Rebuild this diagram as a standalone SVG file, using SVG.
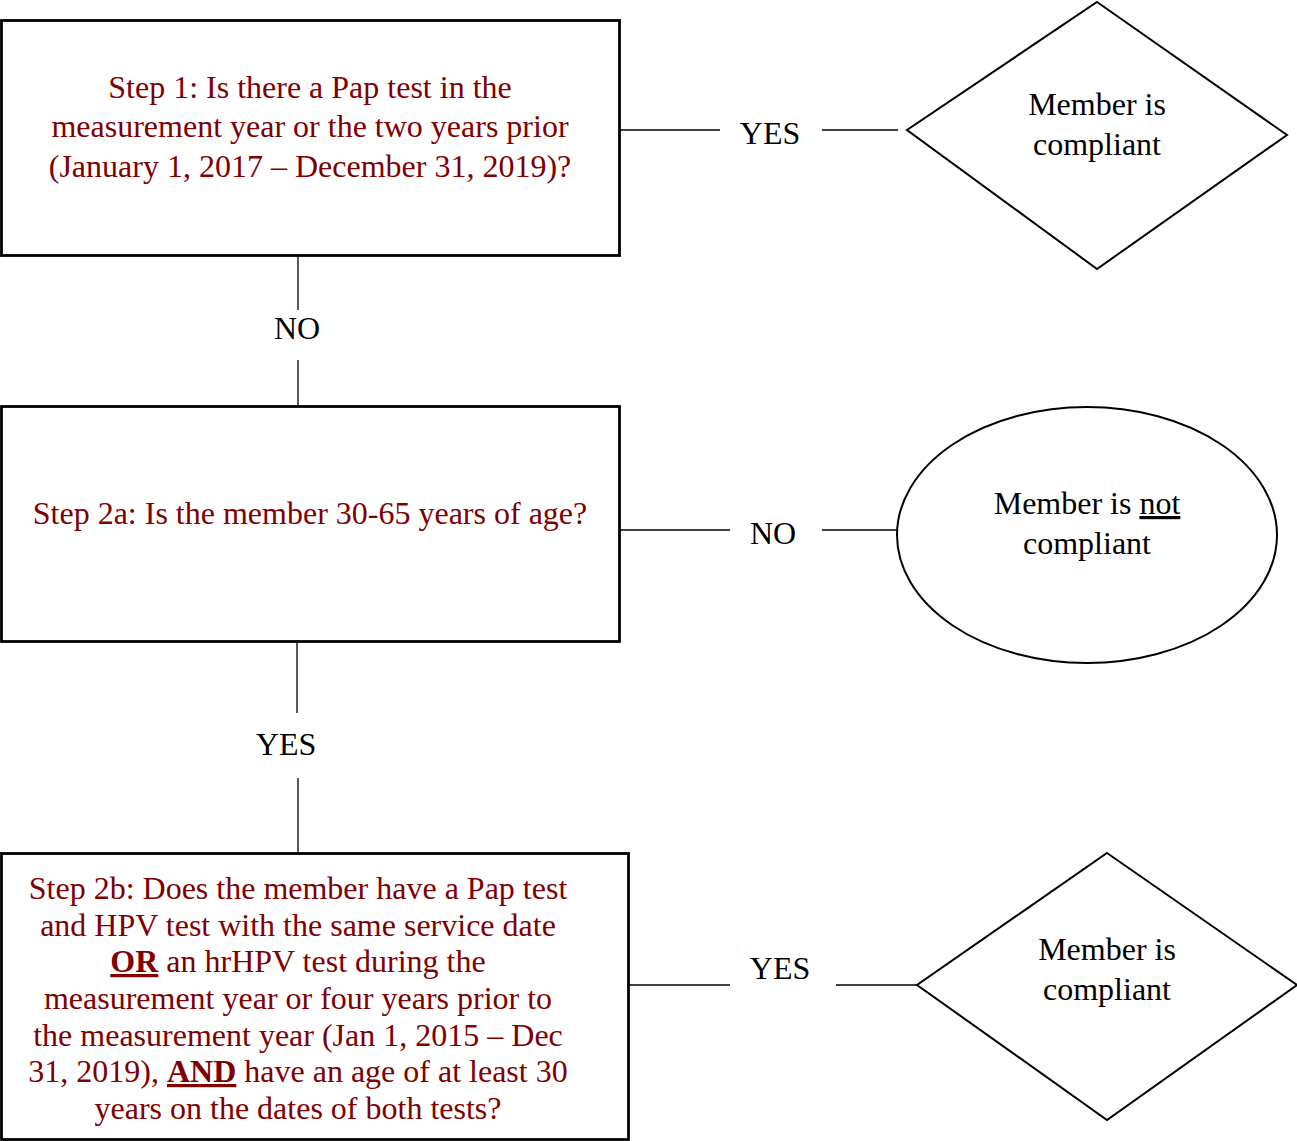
<svg xmlns="http://www.w3.org/2000/svg" width="1297" height="1141" viewBox="0 0 1297 1141">
<style>
.box{fill:#fff;stroke:#000;stroke-width:2.8}
.shape{fill:#fff;stroke:#000;stroke-width:2}
.conn{stroke:#000;stroke-width:1.3;fill:none}
text{font-family:"Liberation Serif","Times New Roman",serif;font-size:32px;text-anchor:middle}
.red{fill:#800000}
.blk{fill:#000}
.u{text-decoration:underline;font-weight:bold}
</style>
<rect width="1297" height="1141" fill="#fff"/>
<g id="connectors">
<line class="conn" x1="620" y1="130" x2="720" y2="130"/>
<line class="conn" x1="822" y1="130" x2="898" y2="130"/>
<line class="conn" x1="298" y1="256" x2="298" y2="310"/>
<line class="conn" x1="298" y1="360" x2="298" y2="406"/>
<line class="conn" x1="620" y1="530" x2="730" y2="530"/>
<line class="conn" x1="822" y1="530" x2="898" y2="530"/>
<line class="conn" x1="297" y1="642" x2="297" y2="713"/>
<line class="conn" x1="298" y1="778" x2="298" y2="853"/>
<line class="conn" x1="629" y1="985" x2="730" y2="985"/>
<line class="conn" x1="836" y1="985" x2="917" y2="985"/>
<text class="blk" x="770" y="144">YES</text>
<text class="blk" x="297" y="339">NO</text>
<text class="blk" x="773" y="544">NO</text>
<text class="blk" x="286" y="755">YES</text>
<text class="blk" x="780" y="979">YES</text>
</g>
<g id="step1">
<rect class="box" x="1.5" y="20.5" width="618" height="235"/>
<text class="red" x="310" y="98">Step 1: Is there a Pap test in the</text>
<text class="red" x="310" y="137">measurement year or the two years prior</text>
<text class="red" x="310" y="177">(January 1, 2017 – December 31, 2019)?</text>
</g>
<g id="compliant1">
<polygon class="shape" points="1097,2 1287,135 1097,269 907,130"/>
<text class="blk" x="1097" y="115">Member is</text>
<text class="blk" x="1097" y="155">compliant</text>
</g>
<g id="step2a">
<rect class="box" x="1.5" y="406.5" width="618" height="235"/>
<text class="red" x="310" y="524">Step 2a: Is the member 30-65 years of age?</text>
</g>
<g id="notcompliant">
<ellipse class="shape" cx="1087" cy="535" rx="190" ry="128"/>
<text class="blk" x="1087" y="514">Member is <tspan text-decoration="underline">not</tspan></text>
<text class="blk" x="1087" y="554">compliant</text>
</g>
<g id="step2b">
<rect class="box" x="1.5" y="853.5" width="627" height="286"/>
<text class="red" x="298" y="899">Step 2b: Does the member have a Pap test</text>
<text class="red" x="298" y="936">and HPV test with the same service date</text>
<text class="red" x="298" y="972"><tspan class="u">OR</tspan> an hrHPV test during the</text>
<text class="red" x="298" y="1009">measurement year or four years prior to</text>
<text class="red" x="298" y="1046">the measurement year (Jan 1, 2015 – Dec</text>
<text class="red" x="298" y="1082">31, 2019), <tspan class="u">AND</tspan> have an age of at least 30</text>
<text class="red" x="298" y="1119">years on the dates of both tests?</text>
</g>
<g id="compliant2">
<polygon class="shape" points="1107,853 1297,985 1107,1120 917,985"/>
<text class="blk" x="1107" y="960">Member is</text>
<text class="blk" x="1107" y="1000">compliant</text>
</g>
</svg>
